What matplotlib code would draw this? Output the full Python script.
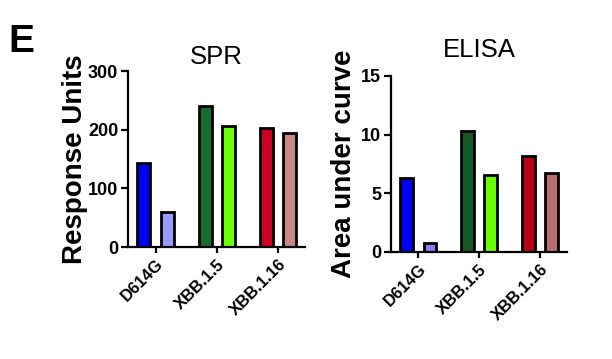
import numpy as np
import matplotlib.pyplot as plt
import matplotlib as mpl

mpl.rcParams.update({
    "font.family": ["Liberation Sans", "DejaVu Sans"],
    "axes.linewidth": 1.6,
    "xtick.major.width": 1.6,
    "ytick.major.width": 1.6,
})

VARIANTS = ["D614G", "XBB.1.5", "XBB.1.16"]

# SPR response units: first / second bar per variant
SPR_A = [143, 240, 202]
SPR_B = [60, 207, 195]

# ELISA area under curve
ELISA_A = [6.3, 10.3, 8.15]
ELISA_B = [0.8, 6.6, 6.7]

SPR_COLORS_A = ["#0000ff", "#156b30", "#cc0020"]
SPR_COLORS_B = ["#9999ff", "#6cff08", "#c98888"]
ELISA_COLORS_A = ["#0000ff", "#145a25", "#b80018"]
ELISA_COLORS_B = ["#8080ff", "#66ff00", "#b87070"]

BAR_W = 0.21
OFFSET = 0.19


def draw_panel(ax, vals_a, vals_b, cols_a, cols_b, ymax, yticks, title, ylabel,
               title_pad, label_pad):
    x = np.arange(len(VARIANTS))
    ax.bar(x - OFFSET, vals_a, BAR_W, color=cols_a, edgecolor="black", linewidth=2.0)
    ax.bar(x + OFFSET, vals_b, BAR_W, color=cols_b, edgecolor="black", linewidth=2.0)
    ax.set_xlim(-0.45, 2.44)
    ax.set_ylim(0, ymax)
    ax.set_yticks(yticks)
    ax.set_xticks(x)
    ax.set_xticklabels(VARIANTS, rotation=45, ha="right", rotation_mode="anchor",
                       fontsize=12, fontweight="bold")
    for lab in ax.get_yticklabels():
        lab.set_fontweight("bold")
        lab.set_fontsize(13)
    ax.tick_params(axis="y", direction="out", length=5, pad=2)
    ax.tick_params(axis="x", direction="out", length=4, pad=3)
    ax.spines["top"].set_visible(False)
    ax.spines["right"].set_visible(False)
    ax.set_title(title, fontsize=18.5, pad=title_pad)
    ax.set_ylabel(ylabel, fontsize=20, fontweight="bold", labelpad=label_pad)


fig = plt.figure(figsize=(6.12, 3.59), dpi=100)

ax1 = fig.add_axes([128 / 612, 1 - 247 / 359, (305 - 128) / 612, (247 - 71) / 359])
draw_panel(ax1, SPR_A, SPR_B, SPR_COLORS_A, SPR_COLORS_B, 300, [0, 100, 200, 300],
           "SPR", "Response Units", 5, 0)

ax2 = fig.add_axes([391 / 612, 1 - 252 / 359, (567 - 391) / 612, (252 - 76) / 359])
draw_panel(ax2, ELISA_A, ELISA_B, ELISA_COLORS_A, ELISA_COLORS_B, 15, [0, 5, 10, 15],
           "ELISA", "Area under curve", 14, 3)

fig.text(8 / 612, 1 - 52 / 359, "E", fontsize=28, fontweight="bold", va="baseline")

fig.savefig("out.png", dpi=100)
